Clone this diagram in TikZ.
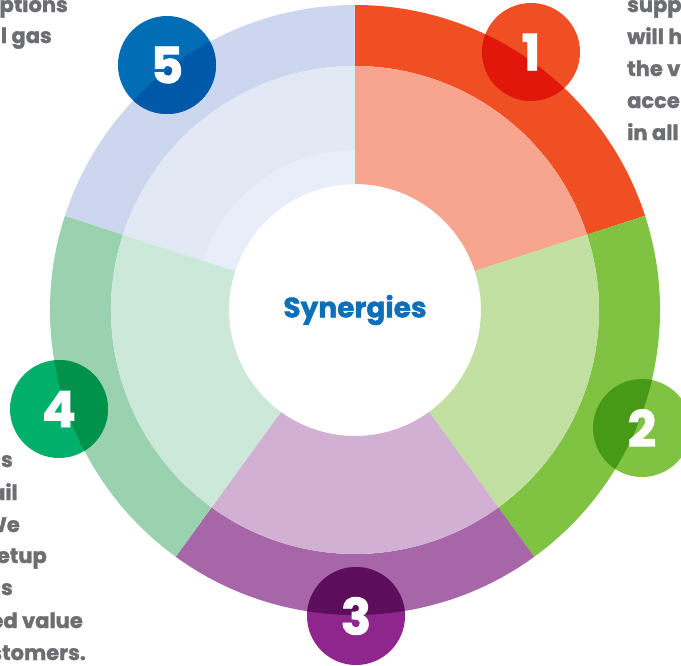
\documentclass[tikz,border=0pt]{standalone}
\usepackage{fontspec}
\setmainfont{Poppins}[BoldFeatures={FakeBold=1.6}]
\definecolor{segA}{HTML}{F04E23}
\definecolor{segAlight}{HTML}{F7A58E}
\definecolor{segB}{HTML}{80C241}
\definecolor{segBlight}{HTML}{C1E0A2}
\definecolor{segC}{HTML}{A666A8}
\definecolor{segClight}{HTML}{D2B0D4}
\definecolor{segD}{HTML}{9AD2B0}
\definecolor{segDlight}{HTML}{CCE8D8}
\definecolor{segE}{HTML}{CCD6EE}
\definecolor{segElight}{HTML}{E3E8F5}
\definecolor{segEcore}{HTML}{E7EEF8}
\definecolor{dotA}{HTML}{F04E23}
\definecolor{darkA}{HTML}{E2170B}
\definecolor{dotB}{HTML}{80C241}
\definecolor{darkB}{HTML}{479A16}
\definecolor{dotC}{HTML}{8E268E}
\definecolor{darkC}{HTML}{5C0E5C}
\definecolor{dotD}{HTML}{00B06A}
\definecolor{darkD}{HTML}{00914A}
\definecolor{dotE}{HTML}{016DB5}
\definecolor{darkE}{HTML}{0059A8}
\definecolor{brand}{HTML}{0B6FBA}
\definecolor{note}{HTML}{6D6E71}

\begin{document}
\begin{tikzpicture}[x=1pt,y=1pt,
  dot/.style={circle,inner sep=0pt,minimum size=98pt},
  digit/.style={text=white,inner sep=0pt,font=\bfseries\fontsize{50}{50}\selectfont},
  side/.style={text=note,inner sep=0pt,font=\bfseries\fontsize{21}{21}\selectfont}]
  \useasboundingbox (-355,-355) rectangle (326,310);
  % ring
  \foreach \a/\outc/\inc in {90/segA/segAlight,18/segB/segBlight,-54/segC/segClight,-126/segD/segDlight,-198/segE/segElight}
  {
    \fill[\outc] (\a:305) arc[start angle=\a,end angle=\a-72,radius=305]
      -- ({\a-72}:244) arc[start angle=\a-72,end angle=\a,radius=244] -- cycle;
    \fill[\inc] (\a:244) arc[start angle=\a,end angle=\a-72,radius=244]
      -- ({\a-72}:126) arc[start angle=\a-72,end angle=\a,radius=126] -- cycle;
  }
  \fill[segEcore] (162:160) arc[start angle=162,end angle=90,radius=160]
    -- (90:126) arc[start angle=90,end angle=162,radius=126] -- cycle;
  \node[text=brand,font=\bfseries\fontsize{28}{28}\selectfont] (core) at (0,0) {Synergies};

  % numbered dots
  \foreach \n/\x/\y/\c in {1/176/258/A,2/287/-118/B,3/1/-306/C,4/-296/-99/D,5/-188/245/E}
  {
    \node[dot,fill=dot\c] (dot\n) at (\x,\y) {};
    \begin{scope}
      \clip (0,0) circle (305);
      \fill[dark\c] (dot\n.center) circle (49);
    \end{scope}
    \node[digit] (num\n) at (dot\n) {\n};
  }

  % cut texts
  \node[side,anchor=base east] (noteA1) at (-287,298) {ptions};
  \node[side,anchor=base east] (noteA2) at (-303,267) {l gas};
  \foreach \t [count=\k] in {supp,will h,the v,acce,in all}
    \node[side,anchor=base west] (noteB\k) at (272,{330-32*\k}) {\t};
  \foreach \x/\y/\t [count=\k] in {-342/-157/s,-337/-190/ail,-335/-222/We,-308/-253/etup,-342/-285/s,-272/-318/ed value,-269/-350/stomers.}
    \node[side,anchor=base east] (noteD\k) at (\x,\y) {\t};
\end{tikzpicture}
\end{document}
